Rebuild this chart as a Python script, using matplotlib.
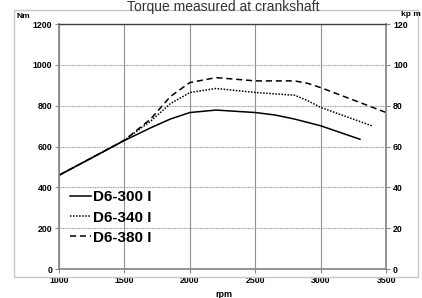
import matplotlib
matplotlib.use('Agg')
import matplotlib.pyplot as plt
from matplotlib.patches import Rectangle

# Data (rpm vs torque in Nm)
rpm_300 = [1000, 1250, 1500, 1700, 1850, 2000, 2200, 2500, 2650, 2800, 3000, 3300]
nm_300 = [460, 545, 630, 692, 735, 767, 779, 767, 755, 735, 702, 636]

rpm_340 = [1000, 1250, 1500, 1700, 1850, 2000, 2200, 2500, 2800, 2900, 3000, 3390]
nm_340 = [460, 545, 632, 725, 810, 865, 885, 865, 852, 825, 792, 702]

rpm_380 = [1000, 1250, 1500, 1700, 1850, 2000, 2200, 2500, 2800, 2900, 3000, 3300, 3500]
nm_380 = [460, 545, 632, 735, 845, 914, 938, 922, 922, 910, 889, 816, 767]

labels = ["D6-300 I", "D6-340 I", "D6-380 I"]
x_ticks = [1000, 1500, 2000, 2500, 3000, 3500]
y_ticks = [0, 200, 400, 600, 800, 1000, 1200]
kpm_ticks = [0, 20, 40, 60, 80, 100, 120]

plt.rcParams['font.family'] = ['Liberation Sans', 'DejaVu Sans']

fig = plt.figure(figsize=(4.22, 2.98), dpi=100)
fig.patch.set_facecolor('white')

# outer chart frame
fig.add_artist(Rectangle((14 / 422, 1 - 277 / 298), (418 - 14) / 422, (277 - 10) / 298,
                         transform=fig.transFigure, facecolor='none',
                         edgecolor='#c8c8c8', lw=1.0))

ax = fig.add_axes([0.140, 0.097, 0.775, 0.822])
ax.plot(rpm_300, nm_300, color='black', lw=1.1, ls='-', label=labels[0])
ax.plot(rpm_340, nm_340, color='black', lw=1.1, ls=(0, (1, 1)), label=labels[1])
ax.plot(rpm_380, nm_380, color='black', lw=1.1, ls=(0, (4, 2.5)), label=labels[2])

ax.set_xlim(1000, 3500)
ax.set_ylim(0, 1200)
ax.set_xticks(x_ticks)
ax.set_yticks(y_ticks)
ax.grid(axis='y', color='#a0a0a0', lw=0.8, ls=(0, (1, 0.6)))
ax.grid(axis='x', color='#909090', lw=0.8)
ax.set_axisbelow(True)
for s in ['left', 'bottom', 'right']:
    ax.spines[s].set_color('#8a8a8a')
    ax.spines[s].set_linewidth(1.3)
ax.spines['top'].set_color('#404040')
ax.spines['top'].set_linewidth(1.0)
ax.tick_params(axis='both', labelsize=6.3, length=3, color='#8a8a8a', pad=2)
for t in ax.get_xticklabels() + ax.get_yticklabels():
    t.set_fontweight('bold')

ax2 = ax.twinx()
ax2.set_ylim(0, 120)
ax2.set_yticks(kpm_ticks)
ax2.tick_params(axis='y', labelsize=6.3, length=3, color='#8a8a8a', pad=2)
for t in ax2.get_yticklabels():
    t.set_fontweight('bold')
for s in ax2.spines.values():
    s.set_visible(False)

leg = ax.legend(loc='lower left', bbox_to_anchor=(-0.005, 0.05), frameon=False,
                prop={'size': 11, 'weight': 'bold'}, handlelength=1.4,
                handletextpad=0.1, labelspacing=0.4, borderpad=0.3)

fig.text(0.53, 1.0, "Torque measured at crankshaft", ha='center', va='top',
         fontsize=10, color='#333333')
fig.text(0.04, 0.945, "Nm", fontsize=6, fontweight='bold', ha='left', va='center')
fig.text(0.997, 0.952, "kp m", fontsize=6, fontweight='bold', ha='right', va='center')
fig.text(0.53, 0.012, "rpm", fontsize=6.5, fontweight='bold', ha='center', va='center')

plt.savefig('out.png', dpi=100, facecolor='white')
plt.close()
